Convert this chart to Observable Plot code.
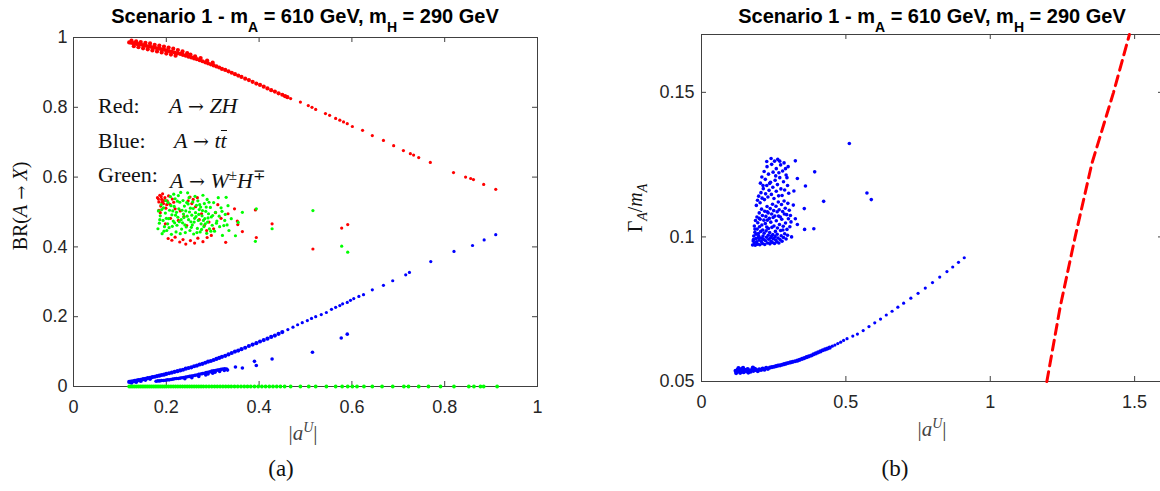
<!DOCTYPE html>
<html><head><meta charset="utf-8">
<script src="https://cdn.jsdelivr.net/npm/d3@7"></script>
<script src="https://cdn.jsdelivr.net/npm/@observablehq/plot@0.6"></script>
<style>
body{margin:0;background:#fff;}
#wrap{position:relative;width:1160px;height:491px;overflow:hidden;background:#fff;}
.p{position:absolute;top:0;}
.lab{position:absolute;white-space:nowrap;line-height:1;}
.title{font-family:"Liberation Sans",Arial,sans-serif;font-weight:bold;font-size:20px;line-height:24px;transform:translateX(-50%);color:#000;}
.sub{font-size:14px;vertical-align:-9px;}
.serif{font-family:"Liberation Serif","Times New Roman",serif;color:#111;}
.mid{transform:translate(-50%,-50%);}
.rot{transform:translate(-50%,-50%) rotate(-90deg);}
.leg{font-family:"Liberation Serif","Times New Roman",serif;font-size:22px;line-height:22px;color:#111;position:absolute;white-space:nowrap;}
.arr{font-family:"DejaVu Serif",serif;font-size:19px;font-style:normal;}
.bar{display:inline-block;border-top:1.4px solid #111;line-height:0.78;padding-top:1px;}
i{font-style:italic;}
</style>
</head><body>
<div id="wrap">
  <div id="pa" class="p" style="left:0"></div>
  <div id="pb" class="p" style="left:580px"></div>

  <div class="lab title" style="left:305px;top:4px">Scenario 1 - m<span class="sub">A</span> = 610 GeV, m<span class="sub">H</span> = 290 GeV</div>
  <div class="lab title" style="left:932px;top:4px">Scenario 1 - m<span class="sub">A</span> = 610 GeV, m<span class="sub">H</span> = 290 GeV</div>

  <div class="leg" style="left:98px;top:95px">Red:</div>
  <div class="leg" style="left:169px;top:95px"><i>A</i> <span class="arr">→</span> <i>ZH</i></div>
  <div class="leg" style="left:98px;top:130px">Blue:</div>
  <div class="leg" style="left:174px;top:130px"><i>A</i> <span class="arr">→</span> <i>t</i><i class="bar">t</i></div>
  <div class="leg" style="left:98px;top:164px">Green:</div>
  <div class="leg" style="left:170px;top:164px"><i>A</i> <span class="arr">→</span> <i>W</i><sup style="font-size:15px">±</sup><i>H</i><sup style="font-size:15px">∓</sup></div>

  <div class="lab serif rot" style="left:20px;top:206px;font-size:20px">BR(<i>A</i> <span class="arr" style="font-size:17px">→</span> <i>X</i>)</div>
  <div class="lab serif rot" style="left:637px;top:208px;font-size:20px">Γ<sub style="font-size:14px"><i>A</i></sub>/<i>m</i><sub style="font-size:14px"><i>A</i></sub></div>

  <div class="lab serif mid" style="left:303px;top:432px;font-size:21px;color:#444">|<i>a</i><sup style="font-size:14px"><i>U</i></sup>|</div>
  <div class="lab serif mid" style="left:932px;top:428px;font-size:21px;color:#444">|<i>a</i><sup style="font-size:14px"><i>U</i></sup>|</div>

  <div class="lab serif mid" style="left:281px;top:468px;font-size:23px">(a)</div>
  <div class="lab serif mid" style="left:895px;top:468px;font-size:23px">(b)</div>
</div>
<script>
// ---------- Panel (a): BR(A -> X) vs |a^U| ----------
const xTicksA = [0, 0.2, 0.4, 0.6, 0.8, 1];
const yTicksA = [0, 0.2, 0.4, 0.6, 0.8, 1];

// A -> ZH, dense part of the upper branch
const redDense = [
[.120,.986],[.124,.985],[.128,.984],[.132,.983],[.136,.982],[.140,.981],[.145,.980],[.150,.978],[.155,.977],[.160,.975],
[.165,.974],[.170,.972],[.175,.971],[.180,.969],[.185,.968],[.190,.966],[.195,.965],[.200,.963],[.206,.961],[.212,.959],
[.218,.957],[.224,.955],[.230,.953],[.236,.950],[.242,.948],[.248,.945],[.254,.943],[.260,.940],[.266,.938],[.272,.935],
[.278,.932],[.284,.929],[.290,.926],[.296,.923],[.302,.920],[.308,.917],[.314,.914],[.320,.910],[.327,.907],[.334,.903],
[.341,.899],[.348,.895],[.355,.891],[.362,.887],[.370,.882],[.378,.878],[.386,.873],[.394,.868],[.402,.864],[.410,.859],
[.418,.854],[.426,.849],[.434,.845],[.442,.840],[.450,.836],[.456,.832],[.461,.829],
[.125,.991],[.135,.989],[.145,.987],[.155,.985],[.165,.983],[.130,.975],[.140,.972],[.150,.969],[.160,.966],[.170,.963],
[.180,.960],[.190,.957],[.200,.954],[.210,.951],[.220,.948],[.175,.979],[.185,.977],[.195,.974],[.205,.971],[.215,.968],
[.225,.964],[.235,.960],[.245,.955],[.252,.951],[.262,.946],[.274,.941],[.288,.934],[.300,.928]
];
// A -> ZH, sparse tail
const redSparse = [
[.468,.825],[.489,.815],[.506,.805],[.514,.800],[.522,.794],[.543,.782],[.552,.777],[.565,.768],[.574,.763],[.582,.758],
[.590,.753],[.601,.745],[.623,.734],[.644,.719],[.668,.705],[.690,.690],[.711,.676],[.726,.667],[.733,.663],[.744,.656],
[.769,.642],[.819,.613],[.845,.600],[.856,.596],[.862,.593],[.884,.579],[.910,.565]
];

const redCluster = [
[.181,.541],[.184,.529],[.186,.548],[.188,.517],[.190,.536],[.192,.552],[.194,.524],[.197,.541],[.199,.511],[.202,.532],
[.205,.546],[.184,.505],[.187,.498],[.208,.522],[.213,.537],[.216,.528],[.219,.509],[.247,.532],[.251,.543],[.255,.524],
[.258,.536],[.263,.515],[.267,.541],[.230,.503],[.238,.487],[.226,.476],[.209,.482],[.198,.466],[.244,.461],[.271,.478],
[.276,.495],[.282,.461],[.287,.447],[.292,.471],[.297,.433],[.302,.452],[.204,.424],[.212,.419],[.219,.428],[.229,.414],
[.236,.421],[.242,.408],[.252,.418],[.261,.411],[.268,.425],[.279,.415],[.288,.427],[.311,.521],[.333,.495],[.353,.474],
[.354,.464],[.364,.444],[.328,.413],[.394,.427],[.428,.466],[.516,.394],[.578,.454],[.591,.464],[.347,.509],[.392,.506],
[.318,.482],[.306,.498],[.183,.537],[.189,.544],[.195,.533],[.201,.521],[.191,.528]
];

// A -> t tbar, dense lower branch
const blueDense = [
[.120,.013],[.124,.014],[.128,.015],[.132,.016],[.136,.017],[.140,.018],[.145,.019],[.150,.021],[.155,.022],[.160,.024],
[.165,.025],[.170,.027],[.175,.028],[.180,.030],[.185,.031],[.190,.033],[.195,.034],[.200,.036],[.206,.038],[.212,.040],
[.218,.042],[.224,.044],[.230,.046],[.236,.048],[.242,.051],[.248,.053],[.254,.055],[.260,.058],[.266,.060],[.272,.063],
[.278,.065],[.284,.068],[.290,.071],[.296,.073],[.302,.076],[.308,.079],[.314,.082],[.320,.085],[.327,.088],[.334,.092],
[.341,.096],[.348,.100],[.355,.103],[.362,.107],[.370,.111],[.378,.116],[.386,.120],[.394,.124],[.402,.129],[.410,.133],
[.418,.137],[.426,.142],[.434,.146],[.442,.151],[.450,.156],[.125,.011],[.135,.013],[.145,.016],[.155,.019],[.165,.022]
];
const blueSparse = [
[.462,.163],[.473,.170],[.483,.177],[.493,.183],[.504,.189],[.513,.195],[.522,.200],[.534,.206],[.545,.212],[.556,.221],
[.565,.227],[.574,.232],[.580,.237],[.590,.241],[.597,.247],[.604,.252],[.615,.258],[.625,.263],[.644,.277],[.668,.290],
[.688,.303],[.716,.320],[.724,.327],[.770,.358],[.820,.387],[.860,.404],[.885,.420],[.910,.435]
];

const blueBranch = [
[.178,.015],[.182,.016],[.186,.016],[.190,.017],[.194,.017],[.198,.018],[.202,.019],[.206,.019],[.210,.020],[.214,.021],
[.218,.022],[.222,.023],[.226,.023],[.230,.024],[.234,.025],[.238,.026],[.242,.027],[.246,.028],[.250,.029],[.254,.030],
[.258,.031],[.262,.032],[.266,.033],[.270,.035],[.274,.036],[.278,.037],[.282,.038],[.286,.040],[.290,.041],[.294,.042],
[.298,.044],[.302,.045],[.306,.046],[.310,.047],[.314,.048],[.318,.049],[.322,.050],[.326,.051],[.330,.050],
[.240,.022],[.255,.025],[.270,.029],[.285,.033],[.300,.038],[.315,.043],[.325,.046],[.290,.036],[.305,.041],[.332,.047],
[.349,.056],[.364,.053],[.390,.072],[.394,.060],[.428,.079],[.515,.098],[.577,.139],[.590,.150]
];

const greenCluster = [
[.182,.452],[.185,.468],[.187,.489],[.183,.503],[.189,.521],[.191,.438],[.193,.476],[.196,.458],[.198,.497],[.194,.512],
[.199,.533],[.201,.447],[.203,.466],[.205,.481],[.207,.505],[.204,.527],[.209,.544],[.211,.436],[.213,.459],[.215,.474],
[.212,.492],[.217,.516],[.219,.538],[.216,.551],[.221,.443],[.223,.462],[.225,.485],[.222,.499],[.227,.509],[.229,.528],
[.226,.547],[.231,.556],[.233,.451],[.235,.469],[.232,.478],[.237,.494],[.239,.517],[.236,.533],[.241,.441],[.243,.457],
[.245,.488],[.242,.503],[.247,.523],[.249,.541],[.246,.555],[.251,.447],[.253,.472],[.255,.491],[.252,.511],[.257,.529],
[.259,.437],[.256,.463],[.261,.482],[.263,.498],[.265,.519],[.262,.545],[.267,.453],[.269,.476],[.271,.507],[.268,.532],
[.273,.443],[.275,.466],[.277,.489],[.274,.514],[.279,.548],[.281,.458],[.283,.481],[.285,.502],[.282,.524],[.287,.439],
[.289,.471],[.291,.495],[.288,.536],[.293,.452],[.295,.513],[.297,.486],[.299,.462],[.302,.527],[.304,.445],[.306,.499],
[.309,.474],[.312,.541],[.315,.458],[.318,.512],[.321,.433],[.324,.461],[.327,.493],[.329,.542],[.333,.518],[.335,.447],
[.349,.432],[.364,.499],[.394,.509],[.428,.452],[.392,.416],[.516,.504],[.578,.402],[.591,.385],[.340,.481],[.355,.470],
[.186,.478],[.190,.507],[.195,.445],[.200,.482],[.206,.455],[.210,.518],[.214,.503],[.218,.469],[.220,.491],[.224,.531],
[.228,.472],[.230,.438],[.234,.505],[.238,.484],[.240,.463],[.244,.527],[.248,.478],[.250,.500],[.254,.456],[.258,.510],
[.260,.471],[.264,.487],[.266,.441],[.270,.493],[.272,.521],[.276,.450],[.278,.504],[.280,.476],[.284,.466],[.286,.514],
[.290,.483],[.292,.528],[.296,.445],[.300,.490],[.308,.468],[.314,.488],[.320,.502],[.326,.476],[.331,.463]
];

const greenZero = [
.120,.124,.128,.132,.136,.140,.144,.148,.152,.156,.160,.164,.168,.172,.176,.180,.184,.188,.192,.196,
.200,.205,.210,.215,.220,.225,.230,.235,.240,.245,.250,.255,.260,.265,.270,.275,.280,.286,.292,.298,
.304,.310,.316,.322,.328,.334,.340,.347,.354,.361,.368,.375,.382,.390,.398,.406,.414,.422,.430,.438,
.446,.455,.468,.489,.507,.522,.545,.565,.579,.591,.601,.611,.626,.644,.665,.688,.712,.722,.744,.765,
.791,.820,.852,.863,.877,.884,.913
];

// ---------- Panel (b): Gamma_A / m_A vs |a^U| ----------
const xTicksB = [0, 0.5, 1, 1.5];
const yTicksB = [0.05, 0.1, 0.15];

const widthDense = [
[.118,.0537],[.122,.0533],[.126,.0541],[.130,.0536],[.134,.0530],[.138,.0543],[.142,.0538],[.146,.0532],[.150,.0540],[.155,.0536],
[.160,.0543],[.165,.0538],[.170,.0534],[.175,.0541],[.180,.0537],[.185,.0544],[.190,.0539],[.195,.0536],[.200,.0542],[.206,.0540],
[.212,.0545],[.218,.0541],[.224,.0547],[.230,.0544],[.237,.0548],[.244,.0550],[.251,.0551],[.258,.0553],[.265,.0555],[.272,.0556],
[.279,.0558],[.286,.0560],[.293,.0562],[.300,.0564],[.308,.0566],[.316,.0568],[.324,.0570],[.332,.0572],[.340,.0575],[.348,.0578],
[.356,.0581],[.364,.0584],[.372,.0587],[.380,.0590],[.388,.0594],[.396,.0597],[.404,.0601],[.412,.0604],[.420,.0608],[.428,.0611],
[.436,.0614],[.444,.0617],[.128,.0546],[.144,.0547],[.162,.0531],[.178,.0548],[.120,.0529]
];
const widthSparse = [
[.453,.0622],[.462,.0626],[.472,.0631],[.482,.0636],[.492,.0642],[.504,.0648],[.524,.0657],[.540,.0664],
[.560,.0676],[.580,.0690],[.600,.0703],[.620,.0716],[.640,.0730],[.660,.0743],[.680,.0757],[.700,.0771],[.725,.0788],[.750,.0805],
[.775,.0823],[.800,.0842],[.825,.0861],[.850,.0880],[.870,.0896],[.890,.0912],[.910,.0928]
];

const widthCluster = [
[.177,.0972],[.183,.0979],[.179,.0986],[.186,.0971],[.191,.0983],[.188,.0994],[.194,.0975],[.199,.0989],[.196,.0998],[.202,.0973],
[.207,.0984],[.204,.0996],[.211,.0977],[.215,.0991],[.213,.1003],[.219,.0974],[.222,.0987],[.225,.0999],[.229,.0979],[.233,.0992],
[.231,.1006],[.237,.0976],[.241,.0985],[.239,.0997],[.245,.0981],[.249,.0994],[.247,.1008],[.253,.0977],[.257,.0989],[.255,.1001],
[.261,.0983],[.265,.0996],[.268,.0979],[.272,.0991],[.276,.1004],[.279,.0985],[.284,.0998],[.288,.1011],[.293,.0993],[.298,.1006],
[.181,.1003],[.185,.1016],[.189,.1009],[.193,.1027],[.197,.1012],[.201,.1035],[.205,.1019],[.209,.1041],[.212,.1024],[.217,.1013],
[.221,.1046],[.224,.1021],[.228,.1058],[.232,.1029],[.236,.1015],[.240,.1051],[.244,.1033],[.248,.1067],[.251,.1038],[.256,.1019],
[.259,.1056],[.263,.1031],[.267,.1072],[.270,.1043],[.274,.1022],[.278,.1061],[.283,.1037],[.287,.1079],[.291,.1048],[.296,.1026],
[.301,.1063],[.306,.1035],[.310,.1052],
[.183,.1038],[.187,.1057],[.192,.1069],[.195,.1049],[.200,.1083],[.203,.1061],[.208,.1096],[.211,.1074],[.216,.1058],[.219,.1089],
[.223,.1071],[.227,.1105],[.231,.1083],[.235,.1064],[.238,.1098],[.243,.1079],[.246,.1113],[.250,.1091],[.254,.1072],[.258,.1106],
[.262,.1087],[.266,.1121],[.269,.1094],[.273,.1069],[.277,.1112],[.281,.1088],[.286,.1124],[.290,.1099],[.295,.1077],[.299,.1116],
[.304,.1092],[.308,.1074],
[.190,.1109],[.194,.1127],[.198,.1141],[.203,.1118],[.206,.1153],[.210,.1134],[.214,.1167],[.218,.1129],[.222,.1149],[.226,.1178],
[.230,.1138],[.234,.1161],[.239,.1189],[.242,.1147],[.247,.1172],[.251,.1133],[.255,.1196],[.259,.1158],[.263,.1181],[.267,.1142],
[.271,.1205],[.275,.1166],[.279,.1143],[.284,.1191],[.288,.1162],[.293,.1214],[.298,.1178],[.302,.1151],
[.204,.1186],[.209,.1207],[.213,.1178],[.217,.1226],[.221,.1199],[.227,.1243],[.232,.1217],[.236,.1185],[.243,.1251],[.248,.1224],
[.253,.1262],[.259,.1236],[.264,.1268],[.268,.1222],[.274,.1249],[.281,.1228],[.286,.1256],[.291,.1236],[.257,.1211],[.226,.1261],
[.241,.1271],[.271,.1262],[.296,.1205],[.300,.1243],
[.180,.0991],[.185,.1027],[.198,.1003],[.210,.0995],[.226,.1034],[.243,.1004],[.262,.1009],[.282,.1024],[.200,.1064],[.228,.1087],
[.325,.1263],[.392,.1225],[.332,.1202],[.360,.1176],[.320,.1159],[.423,.1123],[.356,.1098],[.325,.1063],[.332,.1043],[.357,.1026],
[.389,.1028],[.512,.1323],[.573,.1152],[.588,.1129],[.318,.1110],[.312,.1000]
];

const widthBound = [[1.196,.05],[1.242,.0757],[1.294,.10],[1.352,.1254],[1.427,.15],[1.482,.17]];

// ---------- drawing ----------
const RED = "#ff0000", BLUE = "#0000ff", GREEN = "#00ff00", AX = "#404040";
const fontStyle = {fontFamily: "'Liberation Sans', Arial, sans-serif", fontSize: "18px", color: "#262626", background: "transparent", overflow: "visible"};
const px = d => d[0], py = d => d[1];
const R = 1.6, RD = 2.1;

const A = {w: 580, h: 491, ml: 73, mr: 43, mt: 37, mb: 105};
const AFW = A.w - A.ml - A.mr, AFH = A.h - A.mt - A.mb;
const B = {w: 580, h: 491, ml: 121, mr: -3, mt: 34, mb: 110};
const BFW = B.w - B.ml - B.mr, BFH = B.h - B.mt - B.mb;
const TL = 5;

const plotA = Plot.plot({
  width: A.w, height: A.h,
  marginLeft: A.ml, marginRight: A.mr, marginTop: A.mt, marginBottom: A.mb,
  x: {domain: [0, 1]}, y: {domain: [0, 1]},
  style: fontStyle,
  marks: [
    Plot.frame({stroke: AX}),
    Plot.tickX(xTicksA, {x: d => d, insetTop: AFH - TL, stroke: AX}),
    Plot.tickX(xTicksA, {x: d => d, insetBottom: AFH - TL, stroke: AX}),
    Plot.tickY(yTicksA, {y: d => d, insetRight: AFW - TL, stroke: AX}),
    Plot.tickY(yTicksA, {y: d => d, insetLeft: AFW - TL, stroke: AX}),
    Plot.dot(redDense, {x: px, y: py, r: RD, fill: RED}),
    Plot.dot(redSparse, {x: px, y: py, r: R, fill: RED}),
    Plot.dot(redCluster, {x: px, y: py, r: R, fill: RED}),
    Plot.dot(blueDense, {x: px, y: py, r: RD, fill: BLUE}),
    Plot.dot(blueSparse, {x: px, y: py, r: R, fill: BLUE}),
    Plot.dot(blueBranch, {x: px, y: py, r: 1.8, fill: BLUE}),
    Plot.dot(greenCluster, {x: px, y: py, r: R, fill: GREEN}),
    Plot.dot(greenZero, {x: d => d, y: () => 0, r: 1.9, fill: GREEN}),
    Plot.axisX(xTicksA, {tickSize: 0, tickPadding: 14, label: null, tickFormat: d => String(d)}),
    Plot.axisY(yTicksA, {tickSize: 0, tickPadding: 6, label: null, tickFormat: d => String(d)})
  ]
});
document.getElementById("pa").append(plotA);

const plotB = Plot.plot({
  width: B.w, height: B.h,
  marginLeft: B.ml, marginRight: B.mr, marginTop: B.mt, marginBottom: B.mb,
  x: {domain: [0, 1.6]}, y: {domain: [0.05, 0.17]},
  style: fontStyle,
  marks: [
    Plot.frame({stroke: AX}),
    Plot.tickX(xTicksB, {x: d => d, insetTop: BFH - TL, stroke: AX}),
    Plot.tickX(xTicksB, {x: d => d, insetBottom: BFH - TL, stroke: AX}),
    Plot.tickY(yTicksB, {y: d => d, insetRight: BFW - TL, stroke: AX}),
    Plot.tickY(yTicksB, {y: d => d, insetLeft: BFW - TL, stroke: AX}),
    Plot.dot(widthDense, {x: px, y: py, r: RD, fill: BLUE}),
    Plot.dot(widthSparse, {x: px, y: py, r: R, fill: BLUE}),
    Plot.dot(widthCluster, {x: px, y: py, r: 1.8, fill: BLUE}),
    Plot.line(widthBound, {x: px, y: py, stroke: RED, strokeWidth: 3, strokeDasharray: "10,6"}),
    Plot.axisX(xTicksB, {tickSize: 0, tickPadding: 14, label: null, tickFormat: d => String(d)}),
    Plot.axisY(yTicksB, {tickSize: 0, tickPadding: 7, label: null, tickFormat: d => String(d)})
  ]
});
document.getElementById("pb").append(plotB);
</script>
</body></html>
